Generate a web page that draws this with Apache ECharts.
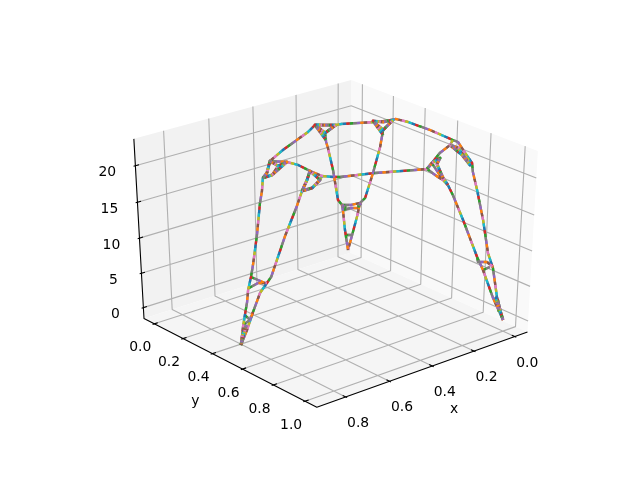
<!DOCTYPE html>
<html><head><meta charset="utf-8">
<style>html,body{margin:0;padding:0;background:#fff}#c{width:640px;height:480px}</style>
<script src="https://cdn.jsdelivr.net/npm/echarts@6/dist/echarts.min.js"></script>
</head><body><div id="c"></div>
<script>
var xTicks = [0, 0.2, 0.4, 0.6, 0.8];
var yTicks = [0, 0.2, 0.4, 0.6, 0.8, 1];
var zTicks = [0, 5, 10, 15, 20];
var xLim = [-0.0433, 0.9093];
var yLim = [-0.05, 1.05];
var zLim = [-1.1, 23.1];
var tab10 = ['#2ca02c', '#d62728', '#1f77b4', '#17becf', '#bcbd22', '#e377c2', '#8c564b', '#ff7f0e', '#9467bd', '#7f7f7f'];

// the curve, null = pen up
var pathX = [.864,.854,.840,.820,.829,.800,.775,.715,.689,.677,.663,.644,.631,.527,.341,.275,.248,.218,.197,.090,.055,.011,-.001,-.005,.003,.003,-.018,.006,-.011,.024,.011,.023,.036,.005,0,null,
  .864,.859,.821,.794,.759,.754,.645,.586,.571,.558,.564,null,
  .631,.592,.581,.587,.587,.564,.546,.429,.305,.267,.215,.127,.045,.003,null,
  .663,.643,.594,.592,null,
  .571,.571,.570,.587,null,
  .800,.782,.764,null,
  .815,.783,.759,null,
  .840,.835,.821,null,
  .854,.835,null,
  .275,.252,.218,null,
  .252,.212,.199,.141,.095,.071,.069,.026,-.005,null,
  .088,.072,.026,null,
  .072,.047,.049,.004,.006,.017,.016,-.005,null,
  .071,.045,.006,null,
  .074,.038,.018,null,
  .037,.025,.013,null,
  .045,.020,.011,.005,null,
  .215,.198,.168,.171,.113,.078,.053,.022,0,null,
  .267,.216,.198,null,
  .078,.084,.060,.029,null,
  .053,.038,null,
  .029,.021,.021];
var pathY = [.496,.498,.492,.479,.501,.479,.457,.399,.385,.382,.369,.368,.370,.304,.203,.156,.183,.212,.216,.287,.305,.315,.375,.507,.657,.688,.707,.780,.766,.838,.865,.917,.966,.961,.998,null,
  .496,.532,.518,.527,.522,.543,.480,.474,.486,.500,.527,null,
  .370,.422,.477,.560,.634,.670,.688,.743,.819,.841,.803,.737,.694,.657,null,
  .369,.399,.368,.422,null,
  .486,.550,.598,.634,null,
  .479,.498,.517,null,
  .487,.499,.522,null,
  .492,.517,.518,null,
  .499,.517,null,
  .156,.189,.212,null,
  .189,.140,.134,.087,.057,.051,.056,.010,-.011,null,
  .273,.316,.317,null,
  .316,.265,.224,.114,.083,.078,.045,-.011,null,
  .051,.076,.083,null,
  .062,.066,.086,null,
  .025,.036,.047,null,
  .694,.712,.755,.766,null,
  .803,.849,.842,.877,.871,.920,.928,.958,.998,null,
  .841,.842,.849,null,
  .920,.934,.958,.958,null,
  .928,.950,null,
  .979,.987,1];
var pathZ = [0,2.5,4,5.5,7.5,8.8,10,13,17,18.5,20,20.5,22,22,22,22,22,22,22,22,22,22,22,22,22,22,20.5,20,18.5,17,13,9,7.5,3,0,null,
  0,2.5,4.5,7,8,9,13,16.5,18.5,20,21.5,null,
  22,22,22,22,22,22,22,22,22,22,22,22,22,22,null,
  20,20.5,21,22,null,
  18.5,19.5,21,22,null,
  8.8,8.4,8,null,
  7.5,8,8,null,
  4,3.5,4.5,null,
  2.8,3.5,null,
  22,21,22,null,
  21,19,18,14,9,8,7,3.5,0,null,
  22,21,22,null,
  21,18,14,9,8,6,3,0,null,
  8,8,8,null,
  7.4,7.4,7.4,null,
  3,3,3,null,
  22,21,20.5,20,null,
  22,20,19,18,14,9,7,3,0,null,
  22,20.5,20,null,
  9,8.5,8.5,7.5,null,
  7,7.5,null,
  3,3,2];

// the knots where the curve doubles back on itself
var knotX = [.663,.644,.631,.594,.592,.643,.663,null,.571,.558,.564,.570,.571,.571,null,.275,.252,.218,.248,.275,.223,null,.088,.072,.026,.068,.088,.056,null,.267,.215,.160,.158,.184,.168,null,.045,.018,0,.004,.045,null,.864,.849,.840,.864,null,.024,.014,0,null,.057,.071,null,.016,.003];
var knotY = [.369,.368,.370,.368,.422,.399,.369,null,.486,.500,.527,.598,.550,.486,null,.156,.189,.212,.183,.156,.155,null,.273,.316,.317,.309,.273,.295,null,.841,.803,.781,.761,.833,.842,null,.694,.709,.761,.716,.694,null,.496,.489,.498,.496,null,1,.966,.998,null,.059,.051,null,.083,.086];
var knotZ = [20,20.5,22,21,22,20.5,20,null,18.5,20,21.5,21,19.5,18.5,null,22,21,22,22,22,19.5,null,22,21,22,22,22,20,null,22,22,22,21,20,19,null,22,21.5,19.5,20.5,22,null,0,1.5,2.5,0,null,1.5,3,0,null,7.5,8,null,7.5,8];

// matplotlib's view: elev 30, azim 50, unit cube stretched over the subplot box
var azim = 50 * Math.PI / 180, elev = 30 * Math.PI / 180;
var u = [-Math.sin(azim), Math.cos(azim), 0];
var v = [-Math.sin(elev) * Math.cos(azim), -Math.sin(elev) * Math.sin(azim), Math.cos(elev)];
var w = [Math.cos(elev) * Math.cos(azim), Math.cos(elev) * Math.sin(azim), Math.sin(elev)];
var cx = 334.7, cy = 237.4, sx = 2681.08, sy = 1997.84;
function dot(a, b) { return a[0] * b[0] + a[1] * b[1] + a[2] * b[2]; }
function pr(p) {
  var q = [(p[0] - xLim[0]) / (xLim[1] - xLim[0]) - 0.5, (p[1] - yLim[0]) / (yLim[1] - yLim[0]) - 0.5, (p[2] - zLim[0]) / (zLim[1] - zLim[0]) - 0.5];
  var f = 10 - dot(w, q);
  return [cx + sx * dot(u, q) / f, cy - sy * dot(v, q) / f];
}
function curve(xs, ys, zs) {
  return xs.map(function (x, i) { return x === null ? [NaN, NaN] : pr([x, ys[i], zs[i]]); });
}

var pad = 1 / 48;
var xa = xLim[0] - pad * (xLim[1] - xLim[0]), xb = xLim[1] + pad * (xLim[1] - xLim[0]);
var ya = yLim[0] - pad * (yLim[1] - yLim[0]), yb = yLim[1] + pad * (yLim[1] - yLim[0]);
var za = zLim[0] - pad * (zLim[1] - zLim[0]), zb = zLim[1] + pad * (zLim[1] - zLim[0]);
var panes = [
  { c: '#f2f2f2', p: [[xa, ya, za], [xb, ya, za], [xb, ya, zb], [xa, ya, zb]] },
  { c: '#f9f9f9', p: [[xa, ya, za], [xa, yb, za], [xa, yb, zb], [xa, ya, zb]] },
  { c: '#f5f5f5', p: [[xa, ya, za], [xb, ya, za], [xb, yb, za], [xa, yb, za]] }
];
var gap = [NaN, NaN];
var gridLines = [], tickLines = [];
var dy = (yb - ya) / 12 * 24 / 25, dx = (xb - xa) / 12 * 24 / 25;
xTicks.forEach(function (t) {
  gridLines.push(pr([t, yb, za]), pr([t, ya, za]), pr([t, ya, zb]), gap);
  tickLines.push(pr([t, yb + 0.1 * dy, za]), pr([t, yb - 0.2 * dy, za]), gap);
});
yTicks.forEach(function (t) {
  gridLines.push(pr([xb, t, za]), pr([xa, t, za]), pr([xa, t, zb]), gap);
  tickLines.push(pr([xb + 0.1 * dx, t, za]), pr([xb - 0.2 * dx, t, za]), gap);
});
zTicks.forEach(function (t) {
  gridLines.push(pr([xb, ya, t]), pr([xa, ya, t]), pr([xa, yb, t]), gap);
  tickLines.push(pr([xb + 0.1 * dx, ya, t]), pr([xb - 0.2 * dx, ya, t]), gap);
});
var axisLines = [pr([xa, yb, za]), pr([xb, yb, za]), pr([xb, ya, za]), pr([xb, ya, zb])];

function ln(d, c, wd, dash, off) {
  var s = { type: 'line', data: d, showSymbol: false, silent: true, connectNulls: false, animation: false,
    lineStyle: { color: c, width: wd, cap: 'butt', join: 'round' } };
  if (dash) { s.lineStyle.type = dash; s.lineStyle.dashOffset = off; }
  return s;
}
function lab(pts, ox, oy) {
  return { type: 'scatter', symbolSize: 0, silent: true, animation: false, data: pts, itemStyle: { opacity: 1 },
    label: { show: true, position: 'inside', offset: [ox, oy], formatter: function (p) { return p.data[2]; },
      fontFamily: 'DejaVu Sans', fontSize: 13.9, color: '#000', opacity: 1, textBorderWidth: 0 } };
}

var path = curve(pathX, pathY, pathZ), knots = curve(knotX, knotY, knotZ);
var series = [];
series.push({ type: 'custom', silent: true, coordinateSystem: 'cartesian2d', data: panes.map(function (p, i) { return [i]; }),
  renderItem: function (params, api) {
    var p = panes[params.dataIndex];
    return { type: 'polygon', shape: { points: p.p.map(function (q) { return api.coord(pr(q)); }) }, style: { fill: p.c } };
  } });
series.push(ln(gridLines, '#b0b0b0', 1.1));
series.push(ln(axisLines, '#000', 1.1));
series.push(ln(tickLines, '#000', 1.1));
series.push(ln(path, '#8c7f78', 2.3));
tab10.forEach(function (c, i) { series.push(ln(path, c, 2.4, [3.5, 31.5], i * 3.5)); });
series.push(ln(knots, '#8a7a78', 3));
tab10.forEach(function (c, i) { series.push(ln(knots, c, 2.8, [1.6, 14.4], i * 1.6)); });
series.push(lab(xTicks.map(function (t) { return pr([t, yb, za]).concat(t.toFixed(1)); }), 12.5, 26.5));
series.push(lab(yTicks.map(function (t) { return pr([xb, t, za]).concat(t.toFixed(1)); }), -14, 24));
series.push(lab(zTicks.map(function (t) { return pr([xb, ya, t]).concat(String(t)); }), -28, 7));
series.push(lab([pr([(xa + xb) / 2, yb, za]).concat('x')], 29, 41));
series.push(lab([pr([xb, (ya + yb) / 2, za]).concat('y')], -32, 40));

var chart = echarts.init(document.getElementById('c'), null, { renderer: 'canvas' });
chart.setOption({
  animation: false,
  grid: { left: 0, right: 0, top: 0, bottom: 0 },
  xAxis: { type: 'value', min: 0, max: 640, show: false },
  yAxis: { type: 'value', min: 0, max: 480, inverse: true, show: false },
  series: series
});
</script></body></html>
